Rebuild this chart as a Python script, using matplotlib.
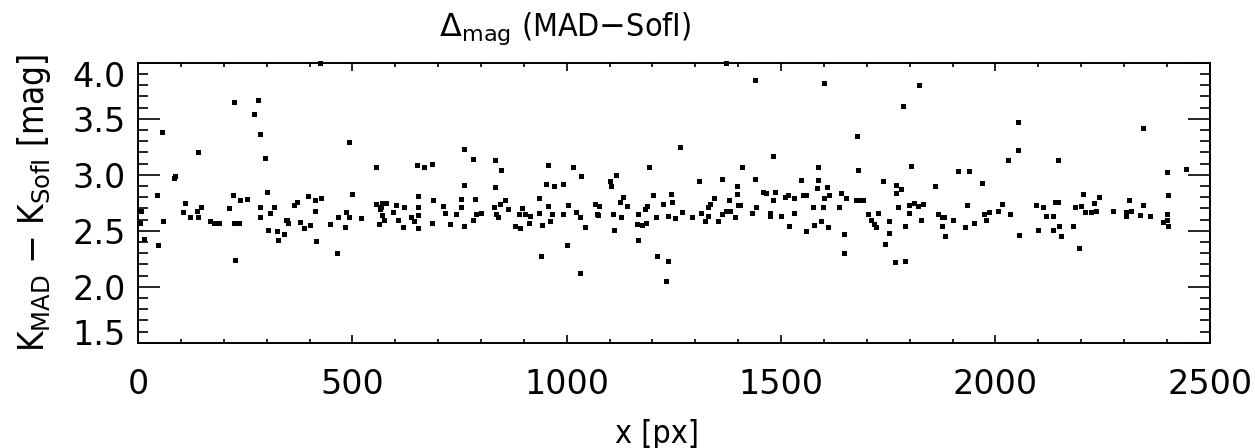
import numpy as np
import matplotlib
matplotlib.use('Agg')
import matplotlib.pyplot as plt
import matplotlib.transforms as mtransforms

# x position on detector [px]
xpos = [8, 5, 13, 45, 47, 56, 59, 84, 86, 109, 105, 121, 141, 137, 141, 148, 168, 176, 188,
        213, 221, 223, 225, 224, 236, 238, 255, 270, 279, 284, 284, 285, 295, 301, 302, 307,
        316, 324, 326, 340, 344, 349, 348, 363, 371, 377, 388, 396, 402, 412, 412, 416, 426,
        424, 448, 463, 466, 484, 483, 492, 492, 498, 520, 555, 555, 565, 563, 570, 568, 574,
        566, 578, 594, 602, 607, 617, 621, 637, 643, 650, 652, 652, 654, 652, 668, 686, 687,
        685, 711, 715, 727, 754, 754, 760, 760, 742, 760, 781, 785, 789, 781, 799, 832, 846,
        832, 830, 836, 840, 844, 857, 863,
        880, 891, 888, 896, 903, 912, 915, 936, 936, 942, 940, 952, 956, 957, 960, 965, 970,
        992, 992, 1000, 1004, 1014, 1022, 1031, 1033, 1031, 1043, 1066, 1070, 1076, 1074,
        1102, 1103, 1109, 1110, 1116, 1124, 1126, 1132, 1140, 1167, 1164, 1167, 1175, 1182,
        1186, 1187, 1191, 1202, 1209, 1211, 1225, 1231, 1236, 1235, 1242, 1246, 1252, 1264,
        1268, 1293, 1309, 1314, 1322, 1329, 1329, 1333, 1343, 1353, 1361, 1363, 1371, 1372,
        1378, 1380, 1397, 1397, 1392, 1400, 1405, 1409, 1431, 1440, 1438, 1442, 1457, 1464,
        1473, 1474, 1480, 1482, 1485, 1500, 1508, 1516, 1518, 1531, 1531, 1547, 1551, 1557,
        1558, 1574, 1576, 1585, 1585, 1583, 1593, 1598, 1600, 1600, 1608, 1610, 1611, 1636,
        1640, 1647, 1647, 1651, 1678, 1680, 1674, 1686, 1690, 1702, 1709, 1717, 1721,
        1725, 1738, 1742, 1751, 1752, 1766, 1768, 1769, 1772, 1780, 1785, 1788, 1790, 1798,
        1798, 1803, 1811, 1819, 1821, 1826, 1832, 1860, 1865, 1875, 1875, 1883, 1881, 1900,
        1912, 1930, 1933, 1938, 1951, 1969, 1974, 1978, 1986, 2005, 2016, 2033, 2029, 2052,
        2052, 2056, 2095, 2099, 2112, 2118, 2134, 2135, 2138, 2145, 2145, 2148, 2153, 2181,
        2185, 2195, 2200, 2204, 2210, 2224, 2231, 2234, 2241, 2274, 2304, 2304, 2312, 2317,
        2336, 2343, 2343, 2361, 2391, 2399, 2403, 2400, 2403, 2399, 2444]

# magnitude difference K_MAD - K_SofI [mag]
dmag = [2.68, 2.57, 2.43, 2.82, 2.37, 3.38, 2.59, 2.97, 2.99, 2.75, 2.67, 2.62, 3.20, 2.68,
        2.62, 2.71, 2.59, 2.57, 2.57, 2.70, 2.82, 3.65, 2.24, 2.57, 2.57, 2.77, 2.78, 3.54,
        3.67, 3.36, 2.71, 2.62, 3.15, 2.85, 2.51, 2.66, 2.71, 2.50, 2.42, 2.47, 2.60, 2.57,
        2.60, 2.73, 2.76, 2.58, 2.52, 2.81, 2.55, 2.77, 2.68, 2.41, 2.79, 4.00, 2.56, 2.30,
        2.62, 2.67, 2.53, 3.29, 2.62, 2.83, 2.61, 3.07, 2.74, 2.69, 2.56, 2.75, 2.64, 2.60,
        2.71, 2.75, 2.67, 2.73, 2.60, 2.53, 2.71, 2.62, 2.59, 3.09, 2.81, 2.71, 2.64, 2.52,
        3.07, 3.10, 2.77, 2.57, 2.72, 2.66, 2.56, 2.78, 2.71, 3.23, 2.91, 2.65, 2.54, 3.14,
        2.78, 2.65, 2.60, 2.66, 3.13, 3.04, 2.89, 2.71, 2.65, 2.62, 2.74, 2.77, 2.69,
        2.54, 2.52, 2.65, 2.70, 2.65, 2.57, 2.63, 2.79, 2.66, 2.55, 2.27, 2.92, 3.09, 2.72,
        2.59, 2.65, 2.90, 2.92, 2.65, 2.37, 2.73, 3.07, 2.67, 2.12, 2.99, 2.62, 2.53, 2.74,
        2.65, 2.72, 2.64, 2.94, 2.90, 2.65, 2.51, 3.00, 2.76, 2.62, 2.80, 2.72, 2.65, 2.56,
        2.42, 2.55, 2.69, 2.57, 2.72, 3.07, 2.82, 2.62, 2.27, 2.74, 2.05, 2.23, 2.63, 2.83,
        2.76, 2.61, 3.25, 2.67, 2.62, 2.94, 2.66, 2.59, 2.71, 2.63, 2.74, 2.79, 2.59, 2.96,
        2.65, 4.00, 2.68, 2.77, 2.68, 2.90, 2.83, 2.62, 2.73, 2.73, 3.07, 2.66, 3.85, 2.96,
        2.71, 2.85, 2.84, 2.66, 2.63, 3.17, 2.77, 2.85, 2.63, 2.80, 2.82, 2.54, 2.66, 2.79,
        2.95, 2.82, 2.50, 2.82, 2.71, 2.55, 3.07, 2.95, 2.88, 2.59, 2.71, 3.82, 2.79, 2.89,
        2.53, 2.82, 2.71, 2.84, 2.47, 2.30, 2.79, 3.35, 3.04, 2.77, 2.77, 2.77, 2.65, 2.60,
        2.56, 2.53,
        2.66, 2.94, 2.38, 2.59, 2.48, 2.22, 2.91, 2.84, 2.71, 2.87, 3.61, 2.23, 2.54, 2.66,
        2.73, 3.08, 2.75, 2.72, 3.80, 2.60, 2.74, 2.90, 2.65, 2.62, 2.54, 2.45, 2.62, 2.60,
        3.03, 2.53, 2.73, 3.03, 2.57, 2.93, 2.65, 2.60, 2.67, 2.68, 2.74, 2.65, 3.13, 3.47,
        3.22, 2.46, 2.73, 2.51, 2.71, 2.63, 2.63, 2.51, 2.76, 2.76, 3.13, 2.54, 2.45, 2.54,
        2.71, 2.35, 2.72, 2.83, 2.67, 2.67, 2.75, 2.68, 2.80, 2.68, 2.67, 2.63, 2.77, 2.68,
        2.64, 3.42, 2.73, 2.63, 2.58, 3.02, 2.82, 2.65, 2.54, 2.60, 3.05]

xticks = [0, 500, 1000, 1500, 2000, 2500]
yticks = [1.5, 2.0, 2.5, 3.0, 3.5, 4.0]
ytick_labels = ['1.5', '2.0', '2.5', '3.0', '3.5', '4.0']

plt.rcParams['font.family'] = 'DejaVu Sans'
plt.rcParams['mathtext.fontset'] = 'dejavusans'
plt.rcParams['font.size'] = 24

fig = plt.figure(figsize=(12.55, 4.48), dpi=100)
ax = fig.add_axes([0.110, 0.235, 0.854, 0.625])

ax.plot(xpos, dmag, linestyle='none', marker='s', markersize=3.6,
        color='black', markeredgewidth=0, clip_on=False)

ax.set_xlim(0, 2500)
ax.set_ylim(1.5, 4.0)
ax.set_xticks(xticks)
ax.set_xticks(np.arange(0, 2501, 100), minor=True)
ax.set_yticks(yticks)
ax.set_yticklabels(ytick_labels)
ax.set_yticks(np.arange(1.5, 4.01, 0.1), minor=True)

ax.tick_params(axis='both', which='both', direction='in', top=True, right=True,
               width=1.2, color='black')
ax.tick_params(axis='x', which='major', length=6, pad=18)
ax.tick_params(axis='x', which='minor', length=3)
ax.tick_params(axis='y', which='major', length=16, pad=9)
ax.tick_params(axis='y', which='minor', length=7)
for s in ax.spines.values():
    s.set_linewidth(1.4)

# IDL puts the end labels a bit inside the axis range
labs = ax.get_yticklabels()
labs[0].set_transform(labs[0].get_transform() +
                      mtransforms.ScaledTranslation(0, 8 / 72, fig.dpi_scale_trans))
labs[-1].set_transform(labs[-1].get_transform() +
                       mtransforms.ScaledTranslation(0, -8 / 72, fig.dpi_scale_trans))

ax.set_xlabel('x [px]', labelpad=13, fontsize=23, fontstretch='condensed')
ax.xaxis.label.set_x(0.484)
ax.set_ylabel(r'K$_{\rm MAD}$ $-$ K$_{\rm SofI}$ [mag]', labelpad=14, fontsize=25,
              fontstretch='condensed')
fig.text(0.45, 0.935, r'$\Delta_{\rm mag}$ (MAD$-$SofI)', ha='center', va='center',
         fontsize=23, fontstretch='condensed')

fig.savefig('out.png', dpi=100)
